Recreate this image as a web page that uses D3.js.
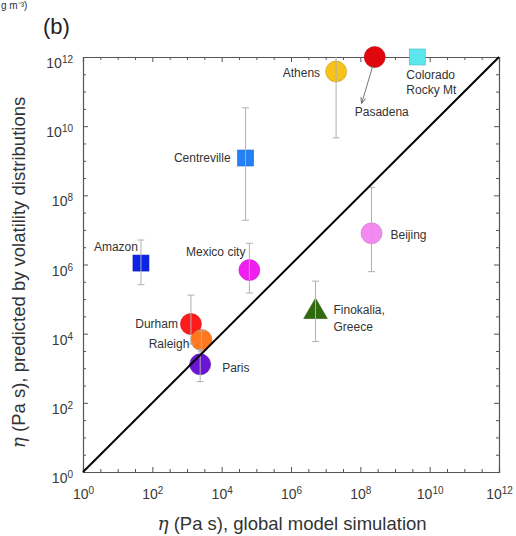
<!DOCTYPE html>
<html>
<head>
<meta charset="utf-8">
<script src="https://cdn.jsdelivr.net/npm/d3@7/dist/d3.min.js"></script>
<style>
  html, body { margin: 0; padding: 0; background: #fff; }
  svg { display: block; font-family: Arial, "Liberation Sans", Helvetica, sans-serif; }
</style>
</head>
<body>
<svg id="chart" width="516" height="536"></svg>
<script>
// Site names
const sites = ["Pasadena", "Colorado Rocky Mt", "Athens", "Centreville", "Amazon",
               "Mexico city", "Beijing", "Finokalia, Greece", "Durham", "Paris", "Raleigh"];
// Viscosity from the global model simulation (Pa s)
const etaModel = [2.6e8, 4.4e9, 2.0e7, 4.9e4, 47, 6.3e4, 2.1e8, 5.1e6, 1.3e3, 2.4e3, 2.6e3];
// Viscosity predicted by volatility distributions (Pa s)
const etaPredicted = [1e12, 1e12, 3.8e11, 1.2e9, 1.1e6, 6.9e5, 8.0e6, 4.3e4, 1.9e4, 1.3e3, 6.6e3];
// Error range of the prediction (low / high)
const etaLow  = [null, null, 4.6e9, 1.9e7, 2.6e5, 1.5e5, 6.2e5, 5.9e3, 5.0e3, 4.1e2, 3.0e3];
const etaHigh = [null, null, 1e12, 3.4e10, 5.1e6, 4.1e6, 1.7e8, 3.3e5, 1.3e5, 3.5e3, 1.2e4];
// Marker shapes and colours
const shapes = ["circle", "square", "circle", "square", "square",
                "circle", "circle", "triangle", "circle", "circle", "circle"];
const colors = ["#e0080c", "#5de6ee", "#f7c21a", "#2381f5", "#0b24e6",
                "#f01ef0", "#f38af0", "#2f6a0e", "#ff1b1b", "#6b14d6", "#ff7820"];
// Axis tick exponents (major labelled ticks every two decades)
const majorExp = [0, 2, 4, 6, 8, 10, 12];

// Label placement relative to each marker: [dx, dy, anchor], one entry per line
const labelLayout = {
  "Pasadena": [[-20, 59, "start"]],
  "Colorado Rocky Mt": [[-11, 22, "start"], [-11, 37, "start"]],
  "Athens": [[-16, 5, "end"]],
  "Centreville": [[-15, 4, "end"]],
  "Amazon": [[-3, -12, "end"]],
  "Mexico city": [[-4, -14, "end"]],
  "Beijing": [[19, 6, "start"]],
  "Finokalia, Greece": [[18, 2.5, "start"], [18, 19, "start"]],
  "Durham": [[-13, 4, "end"]],
  "Raleigh": [[-12, 8, "end"]],
  "Paris": [[22, 8, "start"]]
};
const labelLines = {
  "Colorado Rocky Mt": ["Colorado", "Rocky Mt"],
  "Finokalia, Greece": ["Finokalia,", "Greece"]
};

const svg = d3.select("#chart");
const L = 83, R = 499, T = 57, B = 472;
const x = d3.scaleLog().domain([1, 1e12]).range([L, R]);
const y = d3.scaleLog().domain([1, 1e12]).range([B, T]);

const majorVals = majorExp.map(e => Math.pow(10, e));
const minorVals = d3.range(0, 12.01, 0.5).filter(e => e % 2 !== 0).map(e => Math.pow(10, e));

const axisColor = "#555";
function styleAxis(g) {
  g.select(".domain").attr("stroke", axisColor).attr("stroke-width", 1.2);
  g.selectAll(".tick line").attr("stroke", axisColor).attr("stroke-width", 1);
}
function supLabels(g) {
  g.selectAll(".tick text").each(function(d) {
    const t = d3.select(this);
    const e = Math.round(Math.log10(d));
    t.text(null);
    t.append("tspan").text("10");
    t.append("tspan").attr("dy", "-0.5em").attr("font-size", "10px").text(e);
  });
  g.selectAll(".tick text").attr("fill", "#3a3a3a").attr("font-size", "14px");
}

// Bottom axis (labelled), ticks inward
const gx = svg.append("g").attr("transform", `translate(0,${B})`)
  .call(d3.axisBottom(x).tickValues(majorVals).tickSize(-5).tickPadding(17).tickFormat(d => d));
styleAxis(gx); supLabels(gx);
svg.append("g").attr("transform", `translate(0,${B})`)
  .call(d3.axisBottom(x).tickValues(minorVals).tickSize(-3).tickFormat(""))
  .call(g => { g.select(".domain").remove(); g.selectAll(".tick line").attr("stroke", axisColor); });

// Top axis (mirror)
const gxt = svg.append("g").attr("transform", `translate(0,${T})`)
  .call(d3.axisTop(x).tickValues(majorVals).tickSize(-5).tickFormat(""));
styleAxis(gxt);
svg.append("g").attr("transform", `translate(0,${T})`)
  .call(d3.axisTop(x).tickValues(minorVals).tickSize(-3).tickFormat(""))
  .call(g => { g.select(".domain").remove(); g.selectAll(".tick line").attr("stroke", axisColor); });

// Left axis (labelled)
const gy = svg.append("g").attr("transform", `translate(${L},0)`)
  .call(d3.axisLeft(y).tickValues(majorVals).tickSize(-5).tickPadding(10).tickFormat(d => d));
styleAxis(gy); supLabels(gy);
gy.selectAll(".tick text").attr("dy", "0.75em");
svg.append("g").attr("transform", `translate(${L},0)`)
  .call(d3.axisLeft(y).tickValues(minorVals).tickSize(-3).tickFormat(""))
  .call(g => { g.select(".domain").remove(); g.selectAll(".tick line").attr("stroke", axisColor); });

// Right axis (mirror)
const gyr = svg.append("g").attr("transform", `translate(${R},0)`)
  .call(d3.axisRight(y).tickValues(majorVals).tickSize(-5).tickFormat(""));
styleAxis(gyr);
svg.append("g").attr("transform", `translate(${R},0)`)
  .call(d3.axisRight(y).tickValues(minorVals).tickSize(-3).tickFormat(""))
  .call(g => { g.select(".domain").remove(); g.selectAll(".tick line").attr("stroke", axisColor); });

// Data records
const data = sites.map((s, i) => ({
  site: s, xv: etaModel[i], yv: etaPredicted[i], lo: etaLow[i], hi: etaHigh[i],
  shape: shapes[i], color: colors[i]
}));

// Markers
const mk = svg.append("g");
data.forEach(d => {
  const cx = x(d.xv), cy = y(d.yv);
  const stroke = d3.color(d.color).darker(0.6);
  if (d.shape === "circle") {
    mk.append("circle").attr("cx", cx).attr("cy", cy).attr("r", 10.5)
      .attr("fill", d.color).attr("stroke", stroke).attr("stroke-width", 0.6);
  } else if (d.shape === "square") {
    mk.append("rect").attr("x", cx - 8).attr("y", cy - 8).attr("width", 16).attr("height", 16)
      .attr("fill", d.color).attr("stroke", stroke).attr("stroke-width", 0.6);
  } else {
    mk.append("path").attr("transform", `translate(${cx},${cy})`)
      .attr("d", d3.symbol(d3.symbolTriangle, 240)())
      .attr("fill", d.color).attr("stroke", stroke).attr("stroke-width", 0.6);
  }
});

// Error bars
const eb = svg.append("g").attr("stroke", "#b0b0b0").attr("stroke-width", 1).attr("fill", "none");
data.filter(d => d.lo !== null).forEach(d => {
  const cx = x(d.xv);
  eb.append("line").attr("x1", cx).attr("x2", cx).attr("y1", y(d.hi)).attr("y2", y(d.lo));
  if (d.hi < 1e12) eb.append("line").attr("x1", cx - 3.5).attr("x2", cx + 3.5).attr("y1", y(d.hi)).attr("y2", y(d.hi));
  eb.append("line").attr("x1", cx - 3.5).attr("x2", cx + 3.5).attr("y1", y(d.lo)).attr("y2", y(d.lo));
});

// 1:1 line
svg.append("line")
  .attr("x1", x(1)).attr("y1", y(1)).attr("x2", x(1e12)).attr("y2", y(1e12))
  .attr("stroke", "#000").attr("stroke-width", 2);

// Site labels
const lab = svg.append("g").attr("font-size", "12px").attr("fill", "#333");
data.forEach(d => {
  const lines = labelLines[d.site] || [d.site];
  labelLayout[d.site].forEach((p, k) => {
    lab.append("text").attr("x", x(d.xv) + p[0]).attr("y", y(d.yv) + p[1])
      .attr("text-anchor", p[2]).text(lines[k]);
  });
});

// Pasadena leader arrow
svg.append("defs").append("marker").attr("id", "arr")
  .attr("viewBox", "0 0 10 10").attr("refX", 9).attr("refY", 5)
  .attr("markerWidth", 6).attr("markerHeight", 6).attr("orient", "auto")
  .append("path").attr("d", "M0,1 L10,5 L0,9").attr("fill", "none").attr("stroke", "#666").attr("stroke-width", 1.5);
{
  const p = data[0];
  svg.append("line").attr("x1", x(p.xv) - 2).attr("y1", y(p.yv) + 9)
    .attr("x2", x(p.xv) - 13).attr("y2", y(p.yv) + 46)
    .attr("stroke", "#777").attr("stroke-width", 1).attr("marker-end", "url(#arr)");
}

// Axis titles
const xt = svg.append("text").attr("x", (L + R) / 2 + 1).attr("y", 530)
  .attr("text-anchor", "middle").attr("font-size", "18.5px").attr("fill", "#333");
xt.append("tspan").attr("font-family", "'DejaVu Serif', serif").attr("font-style", "italic").text("η");
xt.append("tspan").text(" (Pa s), global model simulation");

const yt = svg.append("text").attr("transform", `translate(25,${(T + B) / 2 + 8}) rotate(-90)`)
  .attr("text-anchor", "middle").attr("font-size", "18.5px").attr("fill", "#333");
yt.append("tspan").attr("font-family", "'DejaVu Serif', serif").attr("font-style", "italic").text("η");
yt.append("tspan").text(" (Pa s), predicted by volatility distributions");

// Panel letter and the unit text ending the line above
svg.append("text").attr("x", 43).attr("y", 34).attr("font-size", "22px").attr("fill", "#222").text("(b)");
svg.append("text").attr("x", 1).attr("y", 9)
  .attr("font-size", "10px").attr("fill", "#333").text("g m⁻³)");
</script>
</body>
</html>
